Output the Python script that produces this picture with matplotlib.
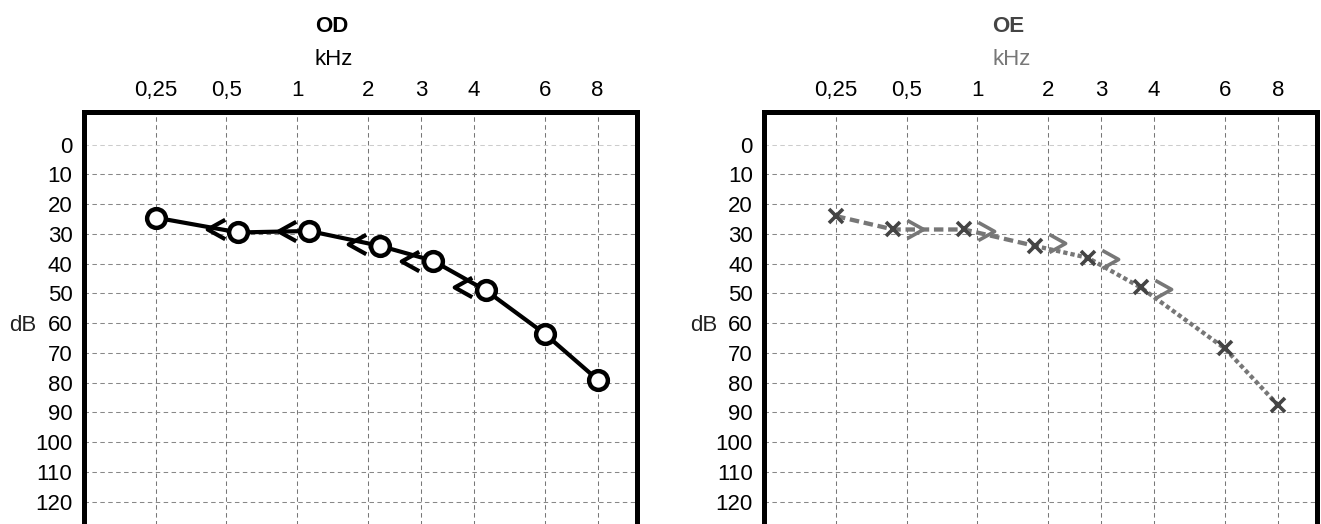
import numpy as np
import matplotlib
matplotlib.use("Agg")
import matplotlib.pyplot as plt
from matplotlib.path import Path

plt.rcParams['font.family'] = ['Liberation Sans', 'DejaVu Sans']

# audiogram frequencies (kHz) and their tick labels
freq_khz = [0.25, 0.5, 1, 2, 3, 4, 6, 8]
freq_labels = ['0,25', '0,5', '1', '2', '3', '4', '6', '8']
# grid slot of each frequency (half-octave columns are narrower)
freq_slot = [0, 1, 2, 3, 3.75, 4.5, 5.5, 6.25]

db_ticks = list(range(0, 121, 10))

# OD (right ear): air conduction (O) and bone conduction (<)
od_air = [24.5, 29.5, 29, 34, 39, 49, 63.5, 79]
od_bone_freq = [0.5, 1, 2, 3, 4]
od_bone = [28.5, 29, 33.5, 39, 48]

# OE (left ear): air conduction (X) and bone conduction (>)
oe_air = [24, 28.5, 28.5, 34, 38, 48, 68.5, 87.5]
oe_bone_freq = [0.5, 1, 2, 3, 4]
oe_bone = [28.5, 29, 33, 38.5, 48.5]


def slot(f):
    return np.interp(np.log2(f), np.log2(freq_khz), freq_slot)


def shifted(freqs, shift, others):
    # symbols are pushed sideways where both air and bone are drawn
    s = slot(freqs)
    return s + np.where(np.isin(freqs, others), shift, 0.0)


chev_left = Path([(0.9, 1), (-0.9, 0), (0.9, -1)],
                 [Path.MOVETO, Path.LINETO, Path.LINETO])
chev_right = Path([(-0.9, 1), (0.9, 0), (-0.9, -1)],
                  [Path.MOVETO, Path.LINETO, Path.LINETO])

fig = plt.figure(figsize=(13.21, 5.24), dpi=100)
W, H = 1321, 524
ax_w = 552.9 / W
ax_h = 419.4 / H
ax_b = -7.4 / H
ax_od = fig.add_axes([83.6 / W, ax_b, ax_w, ax_h])
ax_oe = fig.add_axes([763.9 / W, ax_b, ax_w, ax_h])

FS = 16


def setup(ax, title, title_x, title_color, khz_color):
    ax.set_xlim(-1.02, 6.8)
    ax.set_ylim(130, -11)
    ax.xaxis.tick_top()
    ax.set_xticks(slot(freq_khz))
    ax.set_xticklabels(freq_labels)
    ax.set_yticks(db_ticks)
    ax.tick_params(axis='both', length=0, labelsize=FS, colors='black')
    ax.tick_params(axis='x', pad=8)
    ax.tick_params(axis='y', pad=8)
    ax.grid(axis='x', color='#777777', linestyle=(0, (4.3, 3.3)), lw=0.75)
    ax.grid(axis='y', color='#888888', linestyle=(0, (4.3, 3.3)), lw=0.75)
    ax.get_ygridlines()[0].set_color('#cccccc')
    for sp in ax.spines.values():
        sp.set_linewidth(3.6)
        sp.set_color('black')
    ax.text(-0.134, 60, 'dB', transform=ax.get_yaxis_transform(),
            ha='left', va='center_baseline', fontsize=FS, color='#222222')
    fig.text(title_x, 1 - 31.7 / H, title, ha='left', va='baseline',
             fontsize=FS, fontweight='bold', color=title_color)
    fig.text(title_x, 1 - 65 / H, 'kHz', ha='left', va='baseline',
             fontsize=FS, color=khz_color)


setup(ax_od, 'OD', 315 / W, 'black', 'black')
setup(ax_oe, 'OE', 992 / W, '#444444', '#777777')

# OD
x_air = shifted(np.array(freq_khz), 0.17, od_bone_freq)
ax_od.plot(x_air, od_air, color='black', lw=3.0, zorder=3,
           marker='o', ms=13.5, mew=3.2, mfc='white', mec='black')
ax_od.plot(slot(od_bone_freq) - 0.15, od_bone, ls='none', marker=chev_left,
           ms=14, mew=3.0, mfc='none', mec='black', zorder=4)

# OE
x_air = shifted(np.array(freq_khz), -0.19, oe_bone_freq)
ax_oe.plot(x_air[:4], oe_air[:4], color='#777777', lw=3.1,
           ls=(0, (2.2, 1.1)), zorder=3)
ax_oe.plot(x_air[3:], oe_air[3:], color='#777777', lw=3.1,
           ls=(0, (1.0, 0.7)), zorder=3)
ax_oe.plot(x_air, oe_air, ls='none', marker='x', ms=10, mew=2.6,
           color='#444444', zorder=5)
ax_oe.plot(slot(oe_bone_freq) + 0.12, oe_bone, ls='none', marker=chev_right,
           ms=13, mew=2.6, mfc='none', mec='#777777', zorder=4)

fig.savefig('out.png', dpi=100)
